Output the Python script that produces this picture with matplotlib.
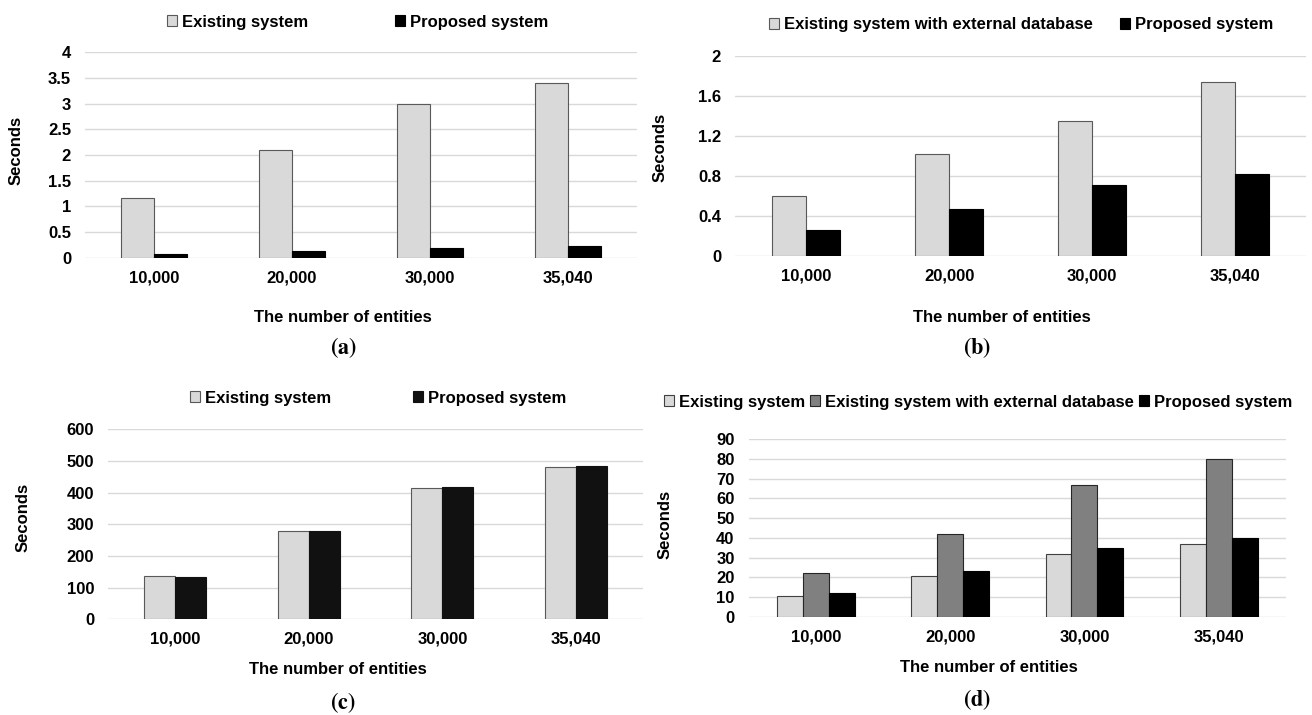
import matplotlib
matplotlib.use("Agg")
import matplotlib.pyplot as plt
import numpy as np

plt.rcParams['font.family'] = ['Liberation Sans', 'DejaVu Sans']
plt.rcParams['font.weight'] = 'bold'
plt.rcParams['mathtext.fontset'] = 'stix'

# data
entities = ["10,000", "20,000", "30,000", "35,040"]

a_existing = [1.16, 2.10, 3.00, 3.40]
a_proposed = [0.07, 0.13, 0.19, 0.22]

b_external = [0.606, 1.026, 1.356, 1.746]
b_proposed = [0.26, 0.476, 0.716, 0.823]

c_existing = [138, 278, 414, 482]
c_proposed = [135, 278, 417, 484]

d_existing = [10.8, 20.7, 32.0, 36.9]
d_external = [22.1, 41.8, 66.7, 80.0]
d_proposed = [12.0, 23.1, 34.9, 39.8]

LIGHT = '#d9d9d9'
MID = '#808080'
DARK = '#000000'
EDGE = '#595959'

W, H = 1312, 715
fig = plt.figure(figsize=(W / 100, H / 100), dpi=100)


def px_axes(x0, x1, y0, y1):
    # pixel box (top-left origin) -> axes
    return fig.add_axes([x0 / W, 1 - y1 / H, (x1 - x0) / W, (y1 - y0) / H])


def style(ax, ymax, step):
    ax.set_xlim(-0.5, 3.5)
    ax.set_ylim(0, ymax)
    ticks = np.arange(0, ymax + step / 2, step)
    ax.set_yticks(ticks)
    ax.set_yticklabels(['{:g}'.format(round(t, 2)) for t in ticks])
    ax.set_xticks(np.arange(4))
    ax.set_xticklabels(entities)
    for s in ax.spines.values():
        s.set_visible(False)
    ax.grid(axis='y', color='#d9d9d9', lw=1.0)
    ax.set_axisbelow(True)
    ax.tick_params(length=0, labelsize=12)
    ax.tick_params(axis='y', pad=10)
    ax.tick_params(axis='x', pad=9)


def texts(xl, yl, cap, letter):
    fig.text(xl[0] / W, 1 - xl[1] / H, "The number of entities", ha='center',
             va='center', fontsize=12, fontweight='bold')
    fig.text(yl[0] / W, 1 - yl[1] / H, "Seconds", ha='center', va='center',
             rotation=90, fontsize=12, fontweight='bold')
    fig.text(cap[0] / W, 1 - cap[1] / H, r'$(\mathbf{%s})$' % letter, ha='center',
             va='center', fontsize=16)


def legend(ax, pos, spacing):
    ax.legend(loc='center', bbox_to_anchor=(pos[0] / W, 1 - pos[1] / H),
              bbox_transform=fig.transFigure, ncol=3, frameon=False,
              fontsize=12, handlelength=0.6, handleheight=0.6,
              handletextpad=0.3, columnspacing=spacing, borderpad=0)


x = np.arange(len(entities))

# (a)
ax = px_axes(85, 637, 52.3, 257.5)
w = 0.24
ax.bar(x - w / 2, a_existing, w, color=LIGHT, edgecolor=EDGE, lw=0.8, label="Existing system")
ax.bar(x + w / 2, a_proposed, w, color=DARK, edgecolor=DARK, lw=0.8, label="Proposed system")
style(ax, 4, 0.5)
legend(ax, (358, 22), 5.2)
texts((343, 317), (16, 150), (343, 348), 'a')

# (b)
ax = px_axes(735, 1306, 56.3, 256.3)
w = 0.238
ax.bar(x - w / 2, b_external, w, color=LIGHT, edgecolor=EDGE, lw=0.8,
       label="Existing system with external database")
ax.bar(x + w / 2, b_proposed, w, color=DARK, edgecolor=DARK, lw=0.8, label="Proposed system")
style(ax, 2, 0.4)
legend(ax, (1021, 25), 1.6)
texts((1002, 317), (660, 147), (977, 348), 'b')

# (c)
ax = px_axes(108, 643, 429.3, 619.3)
w = 0.232
ax.bar(x - w / 2, c_existing, w, color=LIGHT, edgecolor=EDGE, lw=0.8, label="Existing system")
ax.bar(x + w / 2, c_proposed, w, color='#111111', edgecolor='#111111', lw=0.8,
       label="Proposed system")
style(ax, 600, 100)
legend(ax, (378, 398), 4.9)
texts((338, 669), (23, 517), (343, 703), 'c')

# (d)
ax = px_axes(748.5, 1286, 439, 617)
w = 0.193
ax.bar(x - w, d_existing, w, color=LIGHT, edgecolor='#404040', lw=0.8, label="Existing system")
ax.bar(x, d_external, w, color=MID, edgecolor='#262626', lw=0.8,
       label="Existing system with external database")
ax.bar(x + w, d_proposed, w, color=DARK, edgecolor=DARK, lw=0.8, label="Proposed system")
style(ax, 90, 10)
legend(ax, (978, 402), 0.3)
texts((989, 667), (665, 524), (977, 700), 'd')

fig.savefig("out.png", dpi=100)
